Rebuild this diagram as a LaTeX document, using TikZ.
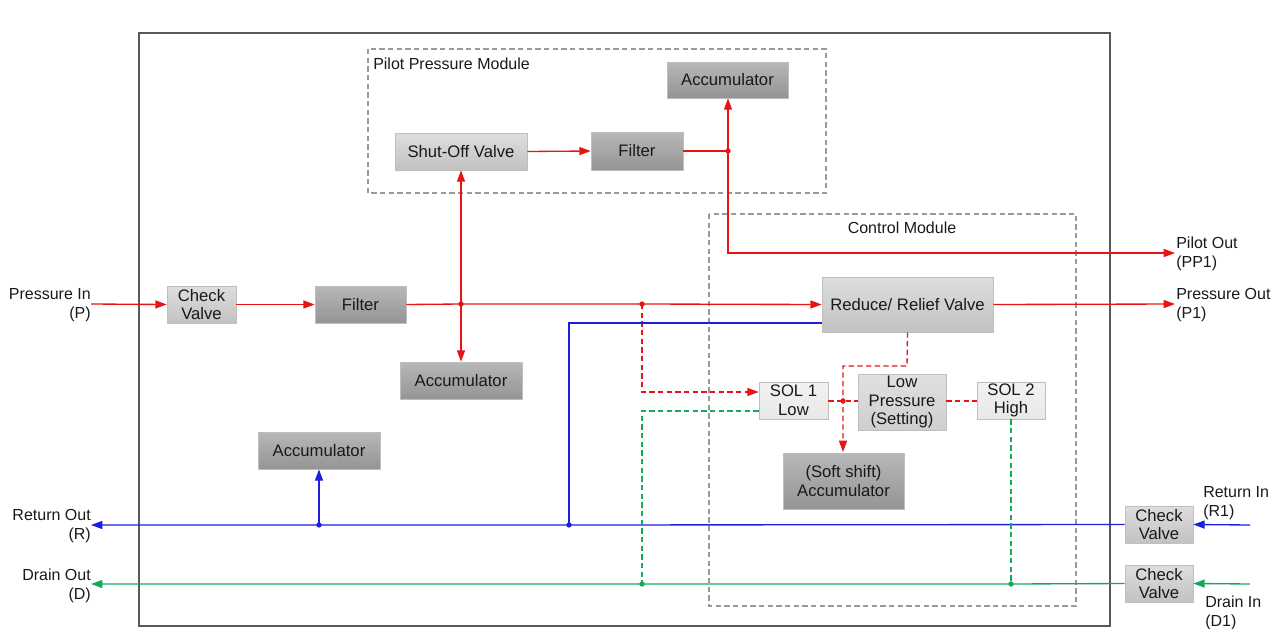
\documentclass[tikz,border=0pt]{standalone}
\usepackage{fontspec}
\setmainfont{Liberation Sans}
\usetikzlibrary{arrows.meta,calc}
\definecolor{pred}{RGB}{232,20,20}
\definecolor{pblue}{RGB}{30,30,225}
\definecolor{pgreen}{RGB}{20,170,90}
\tikzset{
  box/.style={draw=black!25, line width=0.5pt, inner sep=1pt, align=center, font=\fontsize{12.5}{14}\selectfont, text=black!90},
  dark/.style={box, top color=black!28, bottom color=black!42},
  light/.style={box, top color=black!13, bottom color=black!24},
  vlight/.style={box, top color=black!5, bottom color=black!9},
  lps/.style={box, top color=black!12, bottom color=black!19},
  lab/.style={inner sep=0pt, font=\fontsize{12}{14.5}\selectfont, text=black!90},
  tip/.style={-{Triangle[length=8.5pt,width=6pt]}},
  rl/.style={draw=pred, line width=1pt},
  bl/.style={draw=pblue, line width=1pt},
  gl/.style={draw=pgreen, line width=1pt},
  rdash/.style={rl, dash pattern=on 4pt off 2.5pt},
  gdash/.style={gl, dash pattern=on 4pt off 2.5pt},
  module/.style={draw=black!40, line width=0.8pt, dash pattern=on 4pt off 2.5pt},
  dot/.style={circle, inner sep=0pt, minimum size=4pt},
}
\begin{document}
\begin{tikzpicture}[x=0.75pt,y=-0.75pt]
\useasboundingbox (0,0) rectangle (1284,628);
% outer frame
\draw[draw=black!65, line width=1.1pt] (139,33) rectangle (1110,626);
% modules
\draw[module] (368,49) rectangle (826,193);
\node[lab, anchor=north west] (pilotlab) at (373,58) {Pilot Pressure Module};
\draw[module] (709,214) rectangle (1076,606);
\node[lab] (ctrllab) at (902,228) {Control Module};

% boxes
\node[dark, minimum width=121*0.75pt, minimum height=36*0.75pt] (accT) at (727.5,80) {Accumulator};
\node[light, minimum width=132*0.75pt, minimum height=37*0.75pt] (sov) at (461,151.5) {Shut-Off Valve};
\node[dark, minimum width=92*0.75pt, minimum height=38*0.75pt] (filP) at (637,151) {Filter};
\node[light, minimum width=69*0.75pt, minimum height=37*0.75pt] (chk) at (201.5,304.5) {Check\\Valve};
\node[dark, minimum width=91*0.75pt, minimum height=37*0.75pt] (fil) at (360.5,304.5) {Filter};
\node[dark, minimum width=122*0.75pt, minimum height=37*0.75pt] (accM) at (461,380.5) {Accumulator};
\node[light, minimum width=171*0.75pt, minimum height=55*0.75pt] (rrv) at (907.5,304.5) {Reduce/ Relief Valve};
\node[vlight, minimum width=69*0.75pt, minimum height=37*0.75pt] (sol1) at (793.5,400.5) {SOL 1\\Low};
\node[lps, minimum width=88*0.75pt, minimum height=56*0.75pt] (lpset) at (902,402) {Low\\Pressure\\(Setting)};
\node[vlight, minimum width=68*0.75pt, minimum height=37*0.75pt] (sol2) at (1011,400.5) {SOL 2\\High};
\node[dark, minimum width=121*0.75pt, minimum height=56*0.75pt] (accS) at (843.5,481) {(Soft shift)\\Accumulator};
\node[dark, minimum width=122*0.75pt, minimum height=37*0.75pt] (accL) at (319,450.5) {Accumulator};
\node[light, minimum width=68*0.75pt, minimum height=37*0.75pt] (chkR) at (1159,524.5) {Check\\Valve};
\node[light, minimum width=68*0.75pt, minimum height=37*0.75pt] (chkD) at (1159,583.5) {Check\\Valve};

% port labels
\node[lab, anchor=east, align=right] (pin) at (91,305) {Pressure In\\(P)};
\node[lab, anchor=east, align=right] (rout) at (91,526) {Return Out\\(R)};
\node[lab, anchor=east, align=right] (dout) at (91,586) {Drain Out\\(D)};
\node[lab, anchor=west, align=left] (pilotout) at (1176,254) {Pilot Out\\(PP1)};
\node[lab, anchor=west, align=left] (pout) at (1176,305) {Pressure Out\\(P1)};
\node[lab, anchor=west, align=left] (rin) at (1203,503) {Return In\\(R1)};
\node[lab, anchor=west, align=left] (din) at (1205,613) {Drain In\\(D1)};

% coordinates
\coordinate (pinE) at (91,304);
\coordinate (j1) at (461,304);
\coordinate (j2) at (642,304);
\coordinate (jP) at (728,151);
\coordinate (pilE) at (1175,253);
\coordinate (poutE) at (1175,304);
\coordinate (routE) at (91,525);
\coordinate (doutE) at (91,584);
\coordinate (rinE) at (1250,525);
\coordinate (dinE) at (1250,584);
\coordinate (jA) at (319,525);
\coordinate (jB) at (569,525);
\coordinate (jS) at (843,401);
\coordinate (jG1) at (642,584);
\coordinate (jG2) at (1011,584);

% red pressure lines
\draw[rl, tip] (pinE) -- (chk.west);
\draw[rl, tip] (chk.east) -- (fil.west);
\draw[rl, tip] (fil.east) -- (j1) -- (j2) -- (rrv.west);
\draw[rl, tip] (j1) -- (sov.south);
\draw[rl, tip] (j1) -- (accM.north);
\draw[rl, tip] (sov.east) -- (filP.west);
\draw[rl] (filP.east) -- (jP);
\draw[rl, tip] (jP) -- (jP |- accT.south);
\draw[rl, tip] (jP) -- (728,253) -- (pilE);
\draw[rl, tip] (rrv.east) -- (poutE);

% red dashed control lines
\draw[rdash, tip] (j2) -- (642,392) -- (sol1.west |- 0,392);
\draw[rdash, tip] (rrv.south) -- (907,366) -- (843,366) -- (843,452);
\draw[rdash] (sol1.east |- jS) -- (lpset.west |- jS);
\draw[rdash] (lpset.east |- jS) -- (sol2.west |- jS);

% blue return lines
\draw[bl, tip] (chkR.west) -- (jB) -- (jA) -- (routE);
\draw[bl] (rrv.west |- 0,323) -- (569,323) -- (jB);
\draw[bl, tip] (jA) -- (accL.south);
\draw[bl, tip] (rinE) -- (chkR.east);

% green drain lines
\draw[gl, tip] (chkD.west) -- (jG2) -- (jG1) -- (doutE);
\draw[gl, tip] (dinE) -- (chkD.east);
\draw[gdash] (sol1.west |- 0,411) -- (642,411) -- (jG1);
\draw[gdash] (sol2.south -| jG2) -- (jG2);

% junction dots
\node[dot, fill=pred] (d1) at (j1) {};
\node[dot, fill=pred] (d2) at (j2) {};
\node[dot, fill=pred] (d3) at (jP) {};
\node[dot, fill=pred] (d4) at (jS) {};
\node[dot, fill=pblue] (d5) at (jA) {};
\node[dot, fill=pblue] (d6) at (jB) {};
\node[dot, fill=pgreen] (d7) at (jG1) {};
\node[dot, fill=pgreen] (d8) at (jG2) {};
\end{tikzpicture}
\end{document}
